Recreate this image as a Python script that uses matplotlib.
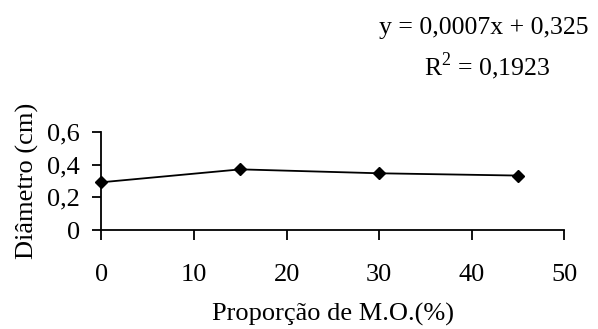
import matplotlib
matplotlib.use("Agg")
import matplotlib.pyplot as plt

# Data
proporcao = [0, 15, 30, 45]
diametro = [0.292, 0.371, 0.347, 0.333]
x_ticks = [0, 10, 20, 30, 40, 50]
y_ticks = [0, 0.2, 0.4, 0.6]
y_labels = ["0", "0,2", "0,4", "0,6"]
equation = "y = 0,0007x + 0,325"
r2_text = "R$^2$ = 0,1923"

plt.rcParams['font.family'] = ['Liberation Serif', 'DejaVu Serif']
plt.rcParams['mathtext.fontset'] = 'custom'
plt.rcParams['mathtext.rm'] = 'Liberation Serif'

fig = plt.figure(figsize=(5.98, 3.29), dpi=100)
ax = fig.add_axes([0.1697, 0.3009, 0.7742, 0.2981])

ax.plot(proporcao, diametro, color='black', linewidth=1.3, marker='D',
        markersize=6.5, markerfacecolor='black', markeredgecolor='black',
        clip_on=False, zorder=3)

ax.set_xlim(0, 50)
ax.set_ylim(0, 0.6)
ax.set_xticks(x_ticks)
ax.set_yticks(y_ticks)
ax.set_yticklabels(y_labels)

for side in ['top', 'right']:
    ax.spines[side].set_visible(False)
for side in ['left', 'bottom']:
    ax.spines[side].set_linewidth(1.3)

ax.tick_params(axis='x', direction='out', length=7.5, width=1.3, pad=17,
               labelsize=19)
ax.tick_params(axis='y', direction='out', length=6.5, width=1.3, pad=9,
               labelsize=19)

ax.set_xlabel("Proporção de M.O.(%)", fontsize=19, labelpad=12)
ax.set_ylabel("Diâmetro (cm)", fontsize=19, labelpad=6)

fig.text(0.809, 0.915, equation, fontsize=18.5, ha='center', va='center')
fig.text(0.814, 0.80, r2_text, fontsize=18.5, ha='center', va='center')

fig.savefig("out.png", dpi=100)
